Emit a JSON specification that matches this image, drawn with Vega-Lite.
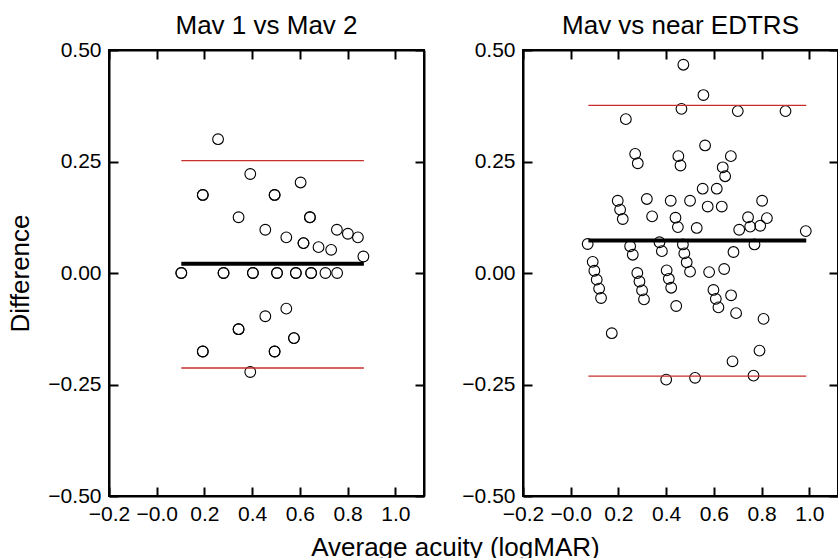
{
  "$schema": "https://vega.github.io/schema/vega-lite/v6.json",
  "autosize": {"type": "pad"},
  "padding": {"left": 6, "top": 11, "right": 0, "bottom": 0},
  "bounds": "flush",
  "spacing": 99,
  "background": "white",
  "title": {"text": "Average acuity (logMAR)", "orient": "bottom", "anchor": "middle", "fontSize": 26, "fontWeight": "normal", "color": "black", "offset": 10, "dx": 32},
  "config": {
    "font": "Liberation Sans",
    "view": {"stroke": "black", "strokeWidth": 2},
    "axis": {"domainColor": "black", "domainWidth": 2, "ticks": true, "tickColor": "black", "tickWidth": 2, "tickSize": -9, "labelFontSize": 21, "labelColor": "black", "grid": false, "titleFontSize": 26, "titleFontWeight": "normal", "titleColor": "black", "labelFont": "Liberation Sans", "titleFont": "Liberation Sans", "zindex": 1},
    "title": {"fontSize": 26, "fontWeight": "normal", "color": "black", "font": "Liberation Sans", "offset": 0.3}
  },
  "datasets": {
    "p1": [
      {"a": 0.257, "d": 0.300}, {"a": 0.392, "d": 0.222}, {"a": 0.193, "d": 0.175}, {"a": 0.193, "d": 0.175},
      {"a": 0.494, "d": 0.175}, {"a": 0.494, "d": 0.175}, {"a": 0.603, "d": 0.203}, {"a": 0.343, "d": 0.125},
      {"a": 0.642, "d": 0.125}, {"a": 0.642, "d": 0.125}, {"a": 0.455, "d": 0.097}, {"a": 0.543, "d": 0.080},
      {"a": 0.615, "d": 0.067}, {"a": 0.615, "d": 0.067}, {"a": 0.678, "d": 0.058}, {"a": 0.731, "d": 0.052},
      {"a": 0.755, "d": 0.097}, {"a": 0.801, "d": 0.088}, {"a": 0.843, "d": 0.080}, {"a": 0.866, "d": 0.037},
      {"a": 0.103, "d": 0}, {"a": 0.103, "d": 0}, {"a": 0.280, "d": 0}, {"a": 0.280, "d": 0},
      {"a": 0.403, "d": 0}, {"a": 0.403, "d": 0}, {"a": 0.504, "d": 0}, {"a": 0.504, "d": 0},
      {"a": 0.583, "d": 0}, {"a": 0.583, "d": 0}, {"a": 0.647, "d": 0}, {"a": 0.647, "d": 0},
      {"a": 0.707, "d": 0}, {"a": 0.756, "d": 0},
      {"a": 0.543, "d": -0.080}, {"a": 0.455, "d": -0.097}, {"a": 0.343, "d": -0.126}, {"a": 0.343, "d": -0.126},
      {"a": 0.193, "d": -0.176}, {"a": 0.193, "d": -0.176}, {"a": 0.494, "d": -0.176}, {"a": 0.494, "d": -0.176},
      {"a": 0.575, "d": -0.146}, {"a": 0.575, "d": -0.146}, {"a": 0.392, "d": -0.222}
    ],
    "p2": [
      {"a": 0.472, "d": 0.467}, {"a": 0.556, "d": 0.399}, {"a": 0.464, "d": 0.368}, {"a": 0.700, "d": 0.363},
      {"a": 0.900, "d": 0.363}, {"a": 0.231, "d": 0.345}, {"a": 0.270, "d": 0.267}, {"a": 0.281, "d": 0.246},
      {"a": 0.451, "d": 0.262}, {"a": 0.460, "d": 0.241}, {"a": 0.563, "d": 0.286}, {"a": 0.671, "d": 0.262},
      {"a": 0.637, "d": 0.237}, {"a": 0.647, "d": 0.217}, {"a": 0.553, "d": 0.189}, {"a": 0.612, "d": 0.189},
      {"a": 0.574, "d": 0.149}, {"a": 0.633, "d": 0.149}, {"a": 0.197, "d": 0.162}, {"a": 0.207, "d": 0.142},
      {"a": 0.218, "d": 0.121}, {"a": 0.319, "d": 0.166}, {"a": 0.341, "d": 0.127}, {"a": 0.419, "d": 0.162},
      {"a": 0.500, "d": 0.162}, {"a": 0.439, "d": 0.124}, {"a": 0.449, "d": 0.103}, {"a": 0.528, "d": 0.101},
      {"a": 0.802, "d": 0.162}, {"a": 0.822, "d": 0.123}, {"a": 0.743, "d": 0.125}, {"a": 0.752, "d": 0.104},
      {"a": 0.794, "d": 0.106}, {"a": 0.706, "d": 0.097}, {"a": 0.985, "d": 0.094}, {"a": 0.071, "d": 0.065},
      {"a": 0.249, "d": 0.060}, {"a": 0.260, "d": 0.041}, {"a": 0.372, "d": 0.069}, {"a": 0.382, "d": 0.049},
      {"a": 0.470, "d": 0.064}, {"a": 0.476, "d": 0.044}, {"a": 0.486, "d": 0.024}, {"a": 0.500, "d": 0.003},
      {"a": 0.770, "d": 0.064}, {"a": 0.682, "d": 0.047}, {"a": 0.580, "d": 0.002}, {"a": 0.643, "d": 0.009},
      {"a": 0.092, "d": 0.025}, {"a": 0.099, "d": 0.005}, {"a": 0.109, "d": -0.015}, {"a": 0.119, "d": -0.035},
      {"a": 0.127, "d": -0.056}, {"a": 0.279, "d": 0.000}, {"a": 0.288, "d": -0.019}, {"a": 0.299, "d": -0.039},
      {"a": 0.307, "d": -0.059}, {"a": 0.402, "d": 0.006}, {"a": 0.411, "d": -0.013}, {"a": 0.421, "d": -0.033},
      {"a": 0.442, "d": -0.074}, {"a": 0.598, "d": -0.038}, {"a": 0.608, "d": -0.058}, {"a": 0.619, "d": -0.077},
      {"a": 0.672, "d": -0.050}, {"a": 0.693, "d": -0.090}, {"a": 0.808, "d": -0.103}, {"a": 0.172, "d": -0.135},
      {"a": 0.791, "d": -0.174}, {"a": 0.678, "d": -0.198}, {"a": 0.400, "d": -0.239}, {"a": 0.521, "d": -0.235},
      {"a": 0.766, "d": -0.230}
    ],
    "l1": [
      {"k": "upper", "x1": 0.103, "x2": 0.868, "y": 0.252},
      {"k": "lower", "x1": 0.103, "x2": 0.868, "y": -0.213},
      {"k": "mean", "x1": 0.103, "x2": 0.868, "y": 0.0206}
    ],
    "l2": [
      {"k": "upper", "x1": 0.074, "x2": 0.987, "y": 0.376},
      {"k": "lower", "x1": 0.074, "x2": 0.987, "y": -0.231},
      {"k": "mean", "x1": 0.074, "x2": 0.987, "y": 0.0728}
    ]
  },
  "hconcat": [
    {
      "width": 315, "height": 446,
      "title": {"text": "Mav 1 vs Mav 2"},
      "layer": [
        {
          "data": {"name": "p1"},
          "mark": {"type": "point", "shape": "circle", "filled": false, "size": 115, "strokeWidth": 1.1, "color": "black", "opacity": 1},
          "encoding": {
            "x": {"field": "a", "type": "quantitative", "scale": {"domain": [-0.2, 1.12], "nice": false, "zero": false},
                  "axis": {"orient": "bottom", "values": [-0.2, 0, 0.2, 0.4, 0.6, 0.8, 1.0], "labelExpr": "datum.value == 0 ? '−0.0' : format(datum.value, '.1f')", "title": null, "labelPadding": 16, "labelFlush": false, "labelOverlap": false}},
            "y": {"field": "d", "type": "quantitative", "scale": {"domain": [-0.5, 0.5], "nice": false, "zero": false},
                  "axis": {"orient": "left", "values": [-0.5, -0.25, 0, 0.25, 0.5], "format": ".2f", "title": "Difference", "labelPadding": 17, "titlePadding": 14, "labelOverlap": false}}
          }
        },
        {
          "data": {"name": "l1"},
          "transform": [{"filter": "datum.k != 'mean'"}],
          "mark": {"type": "rule", "color": "#c62f2b", "strokeWidth": 1.3},
          "encoding": {
            "x": {"field": "x1", "type": "quantitative", "scale": {"domain": [-0.2, 1.12], "nice": false, "zero": false},
                  "axis": {"orient": "top", "labels": false, "title": null, "values": [-0.2, 0, 0.2, 0.4, 0.6, 0.8, 1.0]}},
            "x2": {"field": "x2"},
            "y": {"field": "y", "type": "quantitative", "scale": {"domain": [-0.5, 0.5], "nice": false, "zero": false},
                  "axis": {"orient": "right", "labels": false, "title": null, "values": [-0.5, -0.25, 0, 0.25, 0.5]}}
          }
        },
        {
          "data": {"name": "l1"},
          "transform": [{"filter": "datum.k == 'mean'"}],
          "mark": {"type": "rule", "color": "black", "strokeWidth": 4},
          "encoding": {
            "x": {"field": "x1", "type": "quantitative", "scale": {"domain": [-0.2, 1.12], "nice": false, "zero": false}, "axis": null},
            "x2": {"field": "x2"},
            "y": {"field": "y", "type": "quantitative", "scale": {"domain": [-0.5, 0.5], "nice": false, "zero": false}, "axis": null}
          }
        }
      ],
      "resolve": {"axis": {"x": "independent", "y": "independent"}}
    },
    {
      "width": 315, "height": 446,
      "title": {"text": "Mav vs near EDTRS"},
      "layer": [
        {
          "data": {"name": "p2"},
          "mark": {"type": "point", "shape": "circle", "filled": false, "size": 115, "strokeWidth": 1.1, "color": "black", "opacity": 1},
          "encoding": {
            "x": {"field": "a", "type": "quantitative", "scale": {"domain": [-0.2, 1.12], "nice": false, "zero": false},
                  "axis": {"orient": "bottom", "values": [-0.2, 0, 0.2, 0.4, 0.6, 0.8, 1.0], "labelExpr": "datum.value == 0 ? '−0.0' : format(datum.value, '.1f')", "title": null, "labelPadding": 16, "labelFlush": false, "labelOverlap": false}},
            "y": {"field": "d", "type": "quantitative", "scale": {"domain": [-0.5, 0.5], "nice": false, "zero": false},
                  "axis": {"orient": "left", "values": [-0.5, -0.25, 0, 0.25, 0.5], "format": ".2f", "title": null, "labelPadding": 17, "labelOverlap": false}}
          }
        },
        {
          "data": {"name": "l2"},
          "transform": [{"filter": "datum.k != 'mean'"}],
          "mark": {"type": "rule", "color": "#c62f2b", "strokeWidth": 1.3},
          "encoding": {
            "x": {"field": "x1", "type": "quantitative", "scale": {"domain": [-0.2, 1.12], "nice": false, "zero": false},
                  "axis": {"orient": "top", "labels": false, "title": null, "values": [-0.2, 0, 0.2, 0.4, 0.6, 0.8, 1.0]}},
            "x2": {"field": "x2"},
            "y": {"field": "y", "type": "quantitative", "scale": {"domain": [-0.5, 0.5], "nice": false, "zero": false},
                  "axis": {"orient": "right", "labels": false, "title": null, "values": [-0.5, -0.25, 0, 0.25, 0.5]}}
          }
        },
        {
          "data": {"name": "l2"},
          "transform": [{"filter": "datum.k == 'mean'"}],
          "mark": {"type": "rule", "color": "black", "strokeWidth": 4},
          "encoding": {
            "x": {"field": "x1", "type": "quantitative", "scale": {"domain": [-0.2, 1.12], "nice": false, "zero": false}, "axis": null},
            "x2": {"field": "x2"},
            "y": {"field": "y", "type": "quantitative", "scale": {"domain": [-0.5, 0.5], "nice": false, "zero": false}, "axis": null}
          }
        }
      ],
      "resolve": {"axis": {"x": "independent", "y": "independent"}}
    }
  ]
}
